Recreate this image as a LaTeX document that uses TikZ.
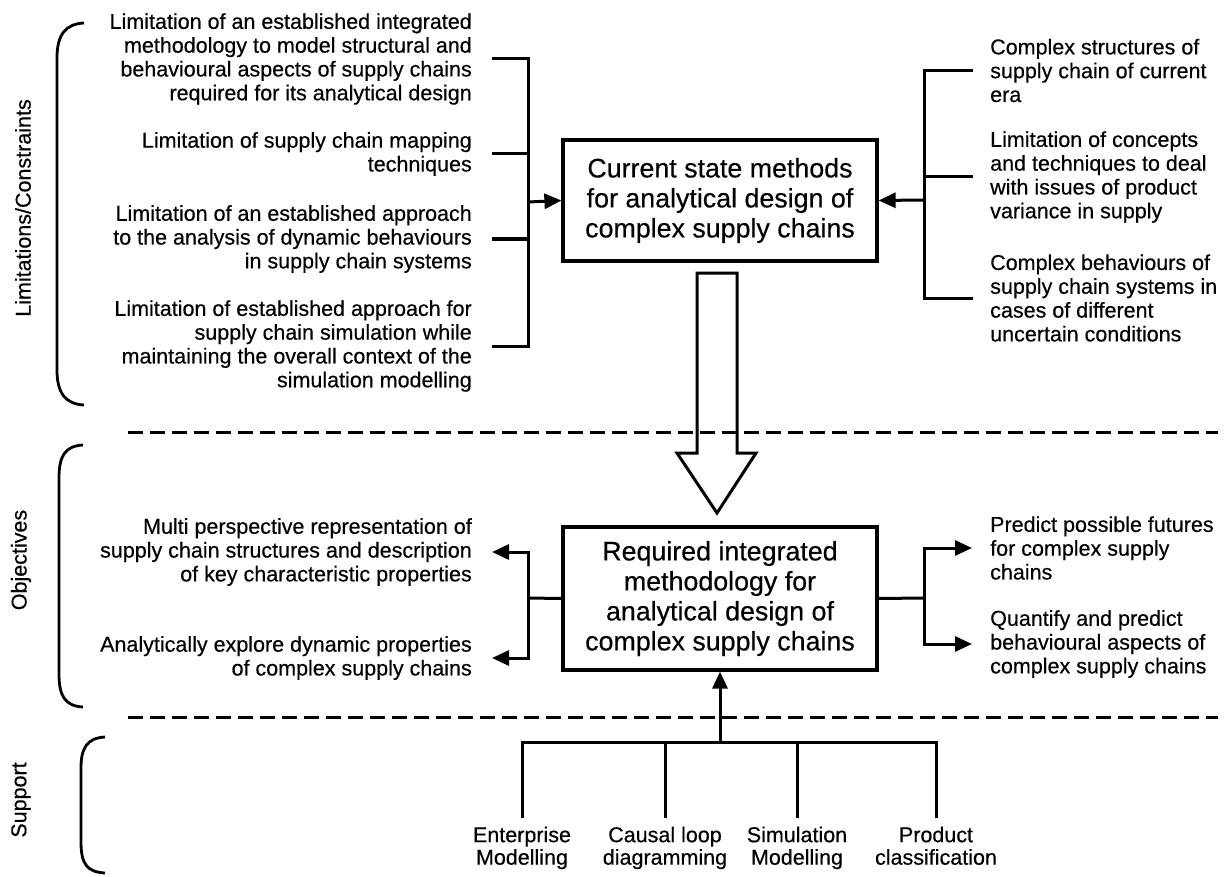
\documentclass[tikz,border=0pt]{standalone}
\usepackage{fontspec}
\setmainfont{Liberation Sans}[UprightFeatures={FakeBold=0.4}]
\usetikzlibrary{arrows.meta}
\begin{document}
\begin{tikzpicture}[x=1pt,y=-1pt,
  side/.style={font=\fontsize{21.5}{23.8}\selectfont, inner sep=0pt},
  lside/.style={side, anchor=east, align=right},
  rside/.style={side, anchor=west, align=left},
  suplabel/.style={font=\fontsize{21.5}{22.5}\selectfont, inner sep=0pt, align=center,
    execute at begin node=\strut, execute at end node=\strut},
  mainbox/.style={draw, line width=3.2pt, minimum width=314pt, inner sep=0pt,
    font=\fontsize{26.8}{30}\selectfont, align=center},
  wire/.style={line width=3pt},
  tip/.style={-{Triangle[length=17pt,width=15pt]}},
  sep/.style={line width=3pt, dash pattern=on 15pt off 7pt},
  brace/.style={line width=2.8pt},
  sectlabel/.style={rotate=90, font=\fontsize{21.5}{24}\selectfont, inner sep=0pt}
]
\fill[white] (0,0) rectangle (1230,877);
\useasboundingbox (0,0) rectangle (1230,877);

% section labels and their braces
\node[sectlabel] (labLim) at (23,208) {Limitations/Constraints};
\node[sectlabel] (labObj) at (21,560) {Objectives};
\node[sectlabel] (labSup) at (21,800) {Support};
\draw[brace] (84,23) .. controls (66,24) and (57,34) .. (57,58) -- (57,370) .. controls (57,394) and (66,404) .. (84,405);
\draw[brace] (83,445) .. controls (65,446) and (59,456) .. (59,478) -- (59,674) .. controls (59,696) and (65,706) .. (83,707);
\draw[brace] (105,737) .. controls (87,738) and (81,748) .. (81,768) -- (81,842) .. controls (81,864) and (87,872) .. (105,873);

% central boxes
\node[mainbox, minimum height=121pt] (cur) at (720,200.5)
  {Current state methods\\for analytical design of\\complex supply chains};
\node[mainbox, minimum height=143pt] (req) at (720,598.5)
  {Required integrated\\methodology for\\analytical design of\\complex supply chains};

% hollow arrow from the current state to the required methodology
\draw[line width=3pt, line join=miter]
  (697,273) -- (737,273) -- (737,453) -- (756,453) -- (717,513) -- (677,453) -- (697,453) -- cycle;

% section separators
\draw[sep] (128,432) -- (1218,432);
\draw[sep] (128,717) -- (1218,717);

% limitations on the left
\node[lside] (lt1) at (472,59) {Limitation of an established integrated\\methodology to model structural and\\behavioural aspects of supply chains\\required for its analytical design};
\node[lside] (lt2) at (472,154) {Limitation of supply chain mapping\\techniques};
\node[lside] (lt3) at (472,239) {Limitation of an established approach\\to the analysis of dynamic behaviours\\in supply chain systems};
\node[lside] (lt4) at (472,346) {Limitation of established approach for\\supply chain simulation while\\maintaining the overall context of the\\simulation modelling};
\coordinate (jl) at (528,202);
\foreach \n in {lt1,lt2,lt3,lt4}
  \draw[wire] (\n.east) ++(20,0) -| (jl);
\draw[wire,tip] (jl) -- (cur.west);

% constraints on the right
\node[rside] (rt1) at (990,70.5) {Complex structures of\\supply chain of current\\era};
\node[rside] (rt2) at (990,177) {Limitation of concepts\\and techniques to deal\\with issues of product\\variance in supply};
\node[rside] (rt3) at (990,298) {Complex behaviours of\\supply chain systems in\\cases of different\\uncertain conditions};
\coordinate (jr) at (924,200);
\foreach \n in {rt1,rt2,rt3}
  \draw[wire] (\n.west) ++(-17,0) -| (jr);
\draw[wire,tip] (jr) -- (cur.east);

% objectives
\node[lside] (lo1) at (472,552) {Multi perspective representation of\\supply chain structures and description\\of key characteristic properties};
\node[lside] (lo2) at (472,658) {Analytically explore dynamic properties\\of complex supply chains};
\node[rside] (ro1) at (990,548) {Predict possible futures\\for complex supply\\chains};
\node[rside] (ro2) at (990,644) {Quantify and predict\\behavioural aspects of\\complex supply chains};
\coordinate (ol) at (528,598);
\coordinate (or) at (924,598);
\draw[wire] (req.west) -- (ol);
\draw[wire] (req.east) -- (or);
\draw[wire,tip] (ol) |- ([xshift=20pt]lo1.east);
\draw[wire,tip] (ol) |- ([xshift=20pt]lo2.east);
\draw[wire,tip] (or) |- ([xshift=-18pt]ro1.west);
\draw[wire,tip] (or) |- ([xshift=-18pt]ro2.west);

% supporting techniques
\node[suplabel] (s1) at (522,849) {Enterprise\\Modelling};
\node[suplabel] (s2) at (665,849) {Causal loop\\diagramming};
\node[suplabel] (s3) at (797,849) {Simulation\\Modelling};
\node[suplabel] (s4) at (936,849) {Product\\classification};
\coordinate (bus) at (720,742);
\foreach \n in {s1,s2,s3,s4}
  \draw[wire] (\n.north) ++(0,-8) |- (bus);
\draw[wire,tip] (bus) -- (req.south);
\end{tikzpicture}
\end{document}
